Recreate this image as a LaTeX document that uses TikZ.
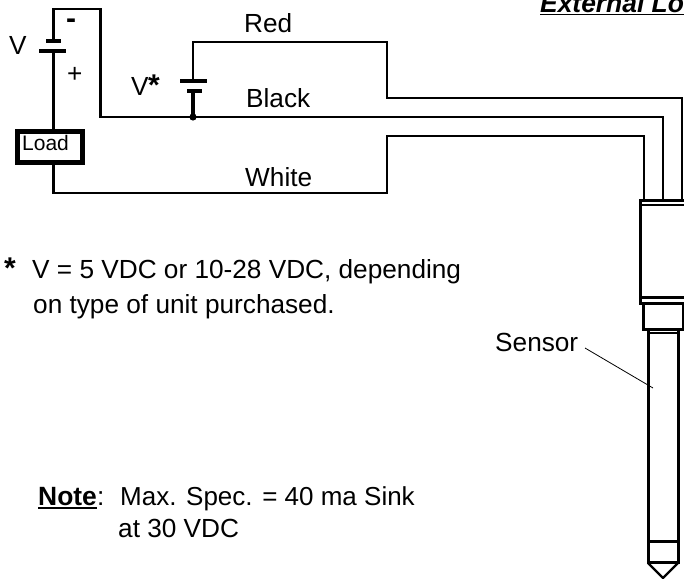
\documentclass[tikz,border=0pt]{standalone}
\usepackage{fontspec}
\setmainfont{Liberation Sans}
\tikzset{
  wire/.style={line width=2.6pt,line join=miter},
  thickwire/.style={line width=3.4pt},
  body/.style={line width=3pt},
  thinbody/.style={line width=1.8pt},
  lbl/.style={inner sep=0pt,anchor=base west,font=\fontsize{26.2}{30}\selectfont},
  star/.style={inner sep=0pt,anchor=base west,font=\fontsize{30}{30}\selectfont\bfseries}
}
\begin{document}
\begin{tikzpicture}[x=1pt,y=-1pt]
\useasboundingbox (0,0) rectangle (684,578);
\clip (0,0) rectangle (684,578);
% Title
\node[inner sep=0pt,anchor=base west,font=\fontsize{26.4}{30}\selectfont\bfseries\itshape] (title) at (540,12.5) {External Lo};
\draw[line width=1.6pt] (540,14.5) -- (684,14.5);
% Load box
\node[draw,line width=5pt,minimum width=65pt,minimum height=31pt,inner sep=0pt,anchor=north west] (load) at (15,129) {};
\node[inner sep=0pt,anchor=base west,font=\fontsize{21}{22}\selectfont] (lLoad) at (22,150) {Load};
% Batteries
\coordinate (vTop) at (53.5,41);
\coordinate (vBot) at (53.5,51);
\coordinate (sTop) at (193,81);
\coordinate (sBot) at (193,91);
\coordinate (junction) at (193,117);
\draw[thickwire] (46,41) -- (61,41);
\draw[thickwire] (39,51) -- (66,51);
\draw[thickwire] (180,81) -- (207,81);
\draw[thickwire] (187,91) -- (202,91);
% V negative to black
\draw[wire] (vTop) -- (53.5,9) -- (100.5,9) -- (100.5,117) -- (junction) -- (663,117) -- (663,200);
\draw[wire] (vBot) -- (load.north -| vBot);
% White
\draw[wire] (load.south -| vBot) -- (53.5,193) -- (387,193) -- (387,136) -- (644,136) -- (644,200);
% Red
\draw[wire] (sTop) -- (193,42) -- (387,42) -- (387,98) -- (682,98) -- (682,200);
% V* to junction
\draw[thickwire] (sBot) -- (junction);
\fill (junction) circle (3.6pt);
% Connector body
\draw[body] (700,200) -- (640,200) -- (640,303) -- (700,303);
\draw[thinbody] (640,205) -- (700,205);
\draw[body] (640,297) -- (700,297);
% Collar
\draw[body] (643.5,303) -- (643.5,329) -- (683,329) -- (683,303);
% Tube
\draw[body] (648,329) -- (648,564) (678,329) -- (678,564);
\draw[thinbody] (648,333) -- (678,333);
\draw[body] (648,541) -- (678,541);
\draw[body] (648,562) -- (678,562);
\draw[line width=2.4pt] (648,563) -- (663,578) -- (678,563);
% Labels
\node[lbl] (lV) at (9,54) {V};
\node[lbl,font=\fontsize{30}{30}\selectfont\bfseries] (lminus) at (66,29) {-};
\node[lbl] (lplus) at (67,82) {+};
\node[lbl] (lVs) at (131,95) {V};
\node[star] (lVstar) at (148,95) {*};
\node[lbl] (lRed) at (244,33) {Red};
\node[lbl] (lBlack) at (246,107) {Black};
\node[lbl] (lWhite) at (245,186) {White};
\node[star] (lnote) at (4,278) {*};
\node[lbl] (l1) at (32,278) {V = 5 VDC or 10-28 VDC, depending};
\node[lbl] (l2) at (33,313) {on type of unit purchased.};
\node[lbl] (lsensor) at (495,351) {Sensor};
\coordinate (leaderEnd) at (653,388);
\draw[line width=0.8pt] (585,348) -- (leaderEnd);
\node[inner sep=0pt,anchor=base west,font=\fontsize{26.4}{30}\selectfont\bfseries] (lNote) at (38,505) {Note};
\draw[line width=1.6pt] (38,508) -- (97,508);
\node[lbl] (lcolon) at (97,505) {:};
\node[lbl,font=\fontsize{26}{30}\selectfont] (l3) at (120,505) {Max. Spec. = 40 ma Sink};
\node[lbl] (l4) at (118,537) {at 30 VDC};
\end{tikzpicture}
\end{document}
